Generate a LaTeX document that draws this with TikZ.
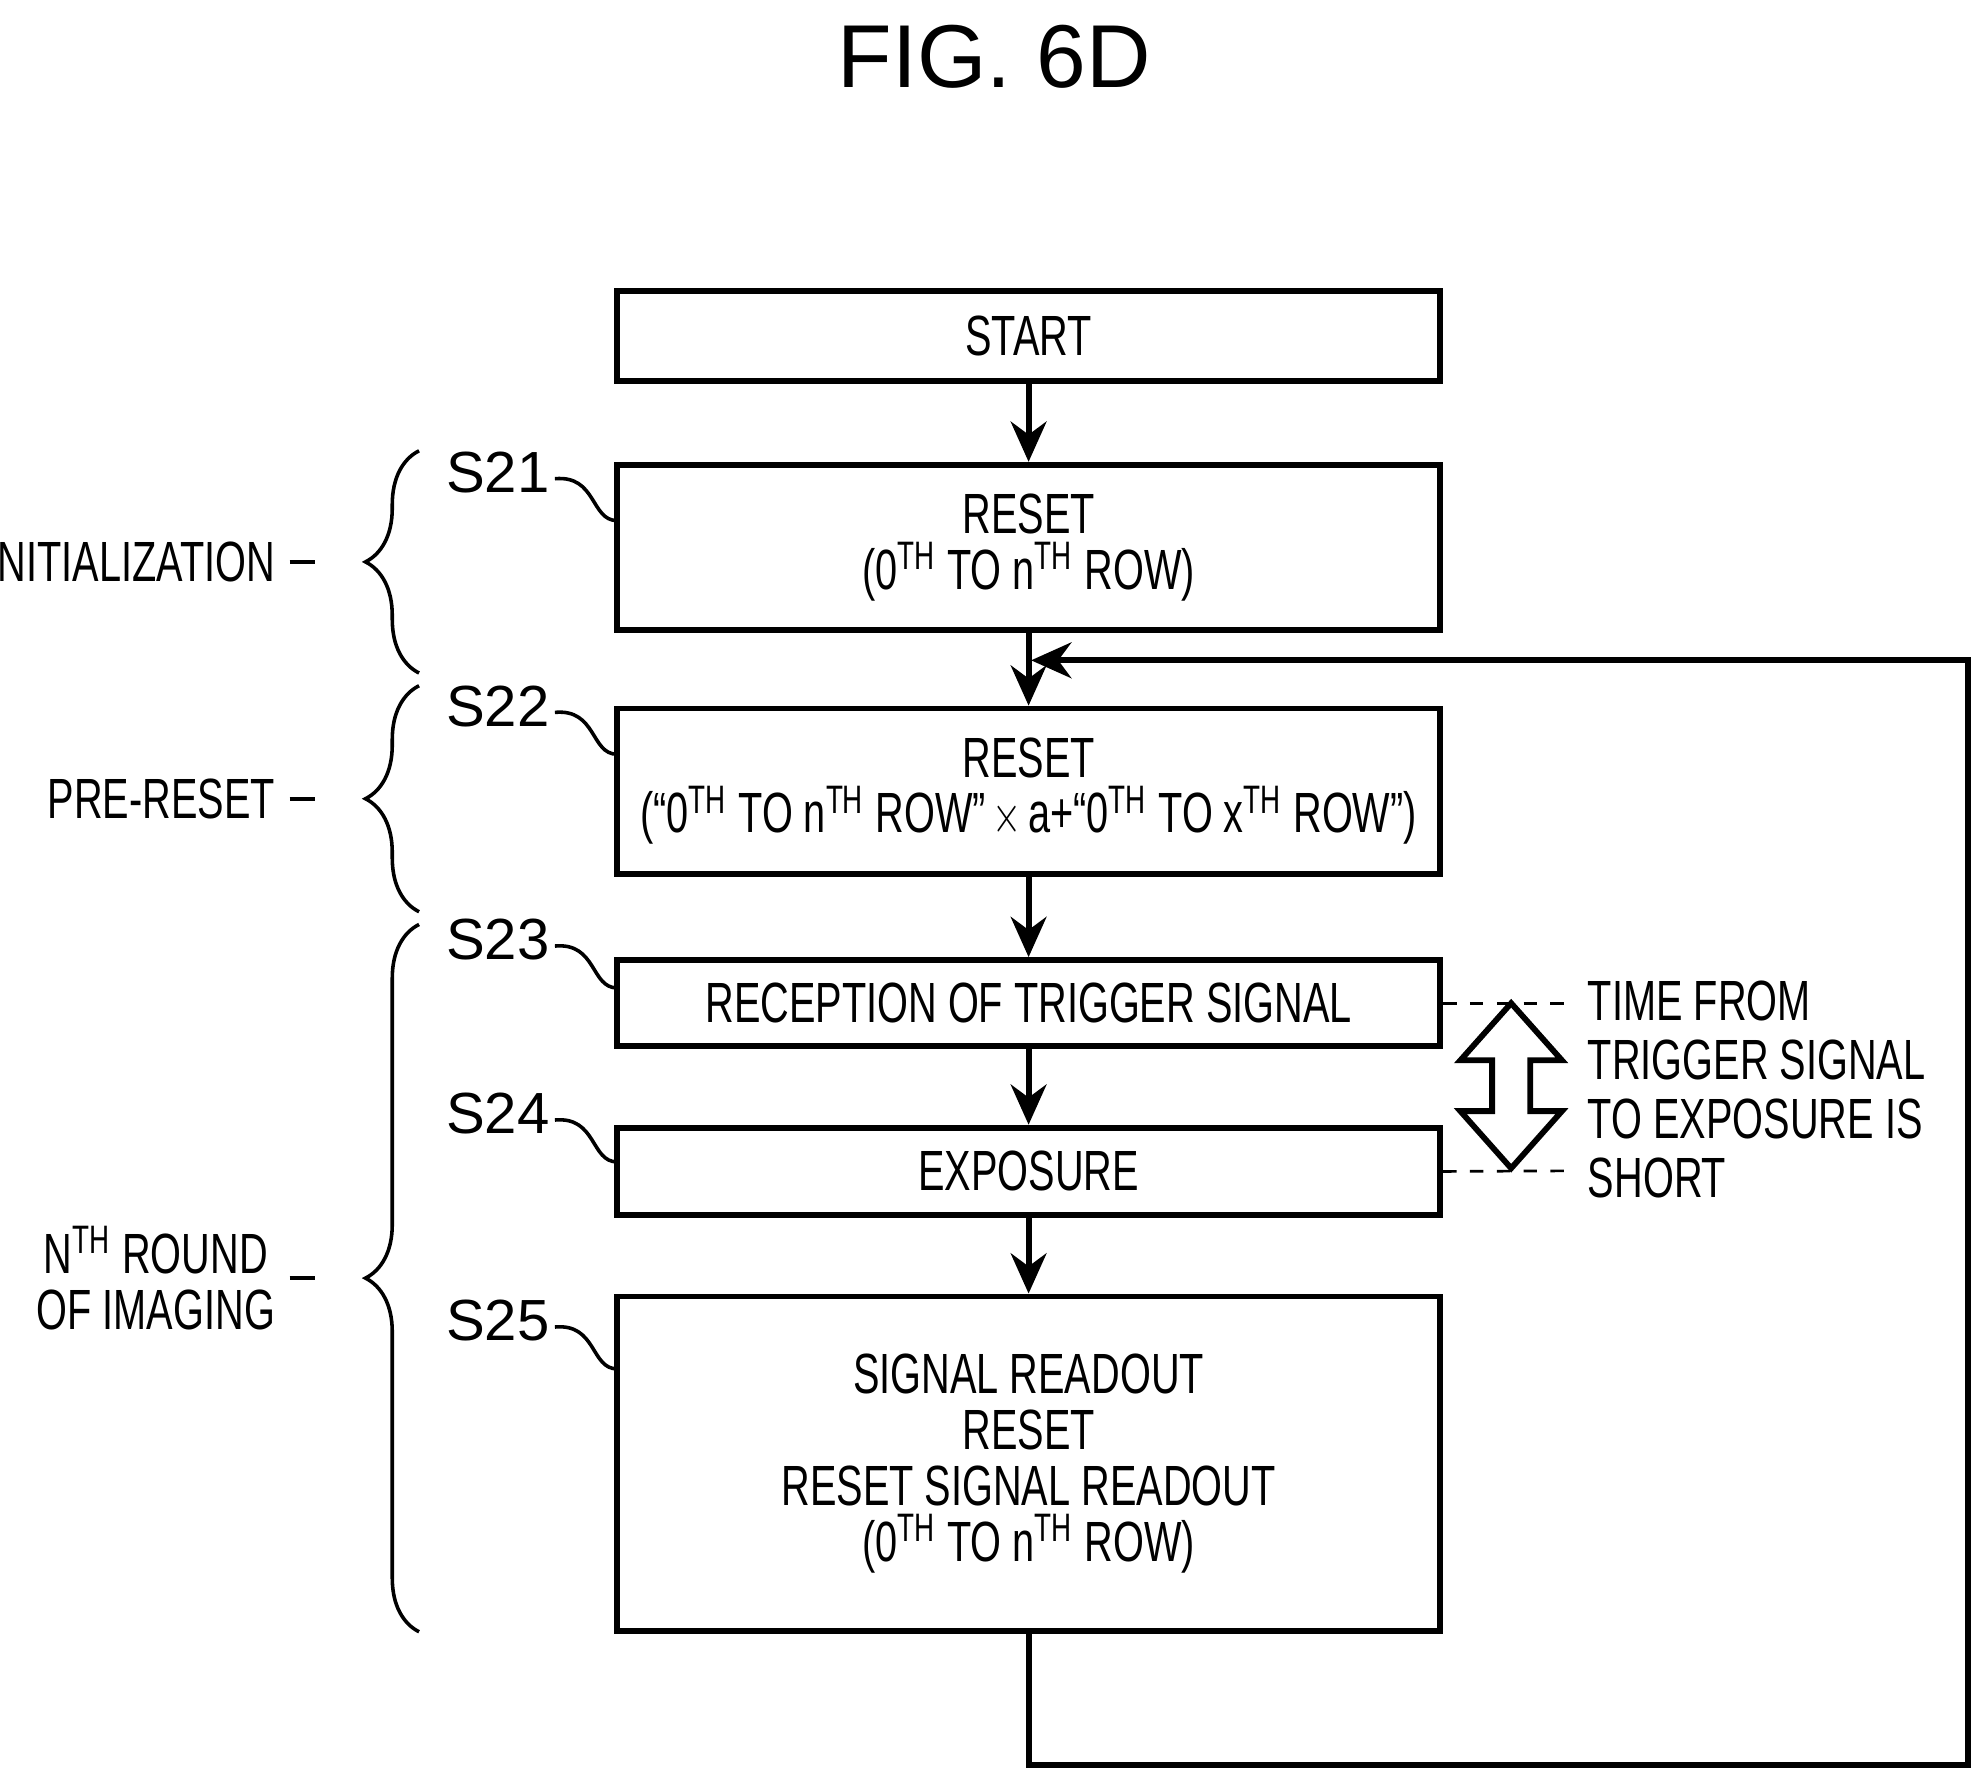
\documentclass[tikz,border=0pt]{standalone}
\usepackage{fontspec}
\setmainfont{Liberation Sans}
\usetikzlibrary{arrows.meta,decorations.pathreplacing}
\newcommand{\tha}{\textsuperscript{TH}}
\begin{document}
\begin{tikzpicture}[x=0.01cm,y=-0.01cm,
  box/.style={draw,line width=1.3pt,minimum width=6.48cm,inner sep=0pt},
  txt/.style={font=\fontsize{12.7}{12.5}\selectfont,align=center,transform shape,xscale=0.7,inner sep=0pt},
  stepno/.style={font=\fontsize{13}{14}\selectfont,inner sep=0pt},
  arr/.style={line width=1.3pt,-{Stealth[length=9pt,width=8pt]}},
  brc/.style={decorate,decoration={brace,amplitude=12pt},line width=0.8pt}]
\useasboundingbox (0,0) rectangle (1560,1404);
\node (title) at (783,45) {\fontsize{20}{22}\selectfont FIG. 6D};
% boxes
\node[box,minimum height=0.71cm] (start) at (810,264.5) {};
\node[box,minimum height=1.30cm] (s21) at (810,431) {};
\node[box,minimum height=1.30cm] (s22) at (810,623) {};
\node[box,minimum height=0.68cm] (s23) at (810,790) {};
\node[box,minimum height=0.69cm] (s24) at (810,922.5) {};
\node[box,minimum height=2.63cm] (s25) at (810,1152.5) {};
\node[txt] at (start) {START};
\node[txt] at (s21) {RESET\\(0\tha{} TO n\tha{} ROW)};
\node[txt] at (s22) {RESET\\(``0\tha{} TO n\tha{} ROW''\,$\times$\,a+``0\tha{} TO x\tha{} ROW'')};
\node[txt] at (s23) {RECEPTION OF TRIGGER SIGNAL};
\node[txt] at (s24) {EXPOSURE};
\node[txt] at (s25) {SIGNAL READOUT\\RESET\\RESET SIGNAL READOUT\\(0\tha{} TO n\tha{} ROW)};
% connectors
\draw[arr] (start) -- (s21);
\draw[arr] (s21) -- (s22);
\draw[arr] (s22) -- (s23);
\draw[arr] (s23) -- (s24);
\draw[arr] (s24) -- (s25);
\coordinate (back) at (812,520);
\draw[arr] (s25.south) -- (810,1390) -- (1550,1390) -- (1550,520) -- (back);
% step labels
\foreach \n/\y in {21/372,22/556,23/740,24/877,25/1040}{
  \node[stepno] (l\n) at (392,\y) {S\n};
  \draw[line width=0.8pt] (437,\y+5) .. controls (470,\y+2) and (465,\y+38) .. (486,\y+38);
}
% braces
\draw[brc] (330,530) -- (330,355) node[midway,left=32pt,txt,anchor=east] (init) {INITIALIZATION};
\draw[brc] (330,718) -- (330,540) node[midway,left=32pt,txt,anchor=east] (pre) {PRE-RESET};
\draw[brc] (330,1285) -- (330,728) node[midway,left=32pt,txt,anchor=east] (nth) {N\tha{} ROUND\\OF IMAGING};
\foreach \b in {init,pre,nth}
  \draw[line width=0.8pt] ([xshift=3pt]\b.east) -- ++(20,0);
% timing note
\draw[dashed,line width=0.6pt] (s23.east) -- (1240,790);
\draw[dashed,line width=0.6pt] (s24.east) -- (1240,922);
\draw[line width=1.3pt] (1190,790) -- (1230,835) -- (1205,835) -- (1205,875) -- (1230,875) -- (1190,920)
  -- (1150,875) -- (1175,875) -- (1175,835) -- (1150,835) -- cycle;
\node[txt,align=left,anchor=north west,font=\fontsize{12.7}{13.2}\selectfont] (note) at (1250,772)
  {TIME FROM\\TRIGGER SIGNAL\\TO EXPOSURE IS\\SHORT};
\end{tikzpicture}
\end{document}
